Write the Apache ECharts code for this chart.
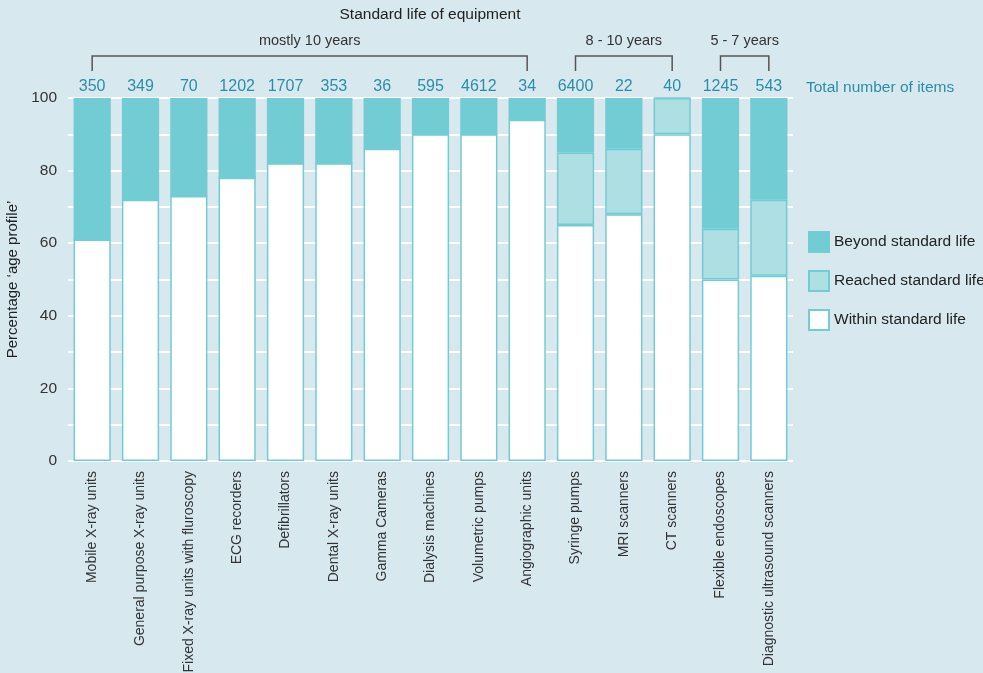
<!DOCTYPE html>
<html>
<head>
<meta charset="utf-8">
<script src="https://cdn.jsdelivr.net/npm/echarts@6/dist/echarts.min.js"></script>
<style>
  html, body { margin: 0; padding: 0; background: #d7e8ef; }
  #chart { width: 983px; height: 673px; }
</style>
</head>
<body>
<div id="chart"></div>
<script>
var categories = [
  "Mobile X-ray units", "General purpose X-ray units", "Fixed X-ray units with fluroscopy",
  "ECG recorders", "Defibrillators", "Dental X-ray units", "Gamma Cameras",
  "Dialysis machines", "Volumetric pumps", "Angiographic units", "Syringe pumps",
  "MRI scanners", "CT scanners", "Flexible endoscopes", "Diagnostic ultrasound scanners"
];
var totals = ["350", "349", "70", "1202", "1707", "353", "36", "595", "4612", "34", "6400", "22", "40", "1245", "543"];
var within = [61, 72, 73, 78, 82, 82, 86, 90, 90, 94, 65, 68, 90, 50, 51];
var reached = [0, 0, 0, 0, 0, 0, 0, 0, 0, 0, 20, 18, 10, 14, 21];
var beyond = [39, 28, 27, 22, 18, 18, 14, 10, 10, 6, 15, 14, 0, 36, 28];
var groups = [
  { label: "mostly 10 years", from: 0, to: 9 },
  { label: "8 - 10 years", from: 10, to: 12 },
  { label: "5 - 7 years", from: 13, to: 14 }
];

var FONT = "Liberation Sans, Arial, sans-serif";
var TEAL = "#72ccd4";
var myChart = echarts.init(document.getElementById("chart"), null, { renderer: "canvas" });

var option = {
  backgroundColor: "#d7e8ef",
  textStyle: { fontFamily: FONT },
  animation: false,
  grid: { left: 68, right: 190, top: 98, bottom: 212, containLabel: false, outerBoundsMode: "none" },
  legend: {
    orient: "vertical",
    left: 803,
    top: 226,
    icon: "rect",
    itemWidth: 20,
    itemHeight: 20,
    itemGap: 17,
    textStyle: { fontSize: 15.5, color: "#222", fontFamily: FONT },
    data: ["Beyond standard life", "Reached standard life", "Within standard life"]
  },
  xAxis: [
    {
      type: "category",
      data: categories,
      axisLine: { show: false },
      axisTick: { show: false },
      axisLabel: { rotate: 90, interval: 0, fontSize: 14, color: "#333", margin: 10, fontFamily: FONT }
    },
    {
      type: "category",
      position: "top",
      data: totals,
      axisLine: { show: false },
      axisTick: { show: false },
      axisLabel: { interval: 0, fontSize: 16, color: "#2b8ea8", margin: 3, fontFamily: FONT }
    }
  ],
  yAxis: {
    type: "value",
    min: 0,
    max: 100,
    interval: 10,
    name: "Percentage \u2018age profile\u2019",
    nameLocation: "middle",
    nameGap: 44,
    nameTextStyle: { fontSize: 15, color: "#222", fontFamily: FONT },
    axisLine: { show: false },
    axisTick: { show: false },
    axisLabel: {
      fontSize: 15.5, color: "#333", margin: 11, fontFamily: FONT,
      formatter: function (v) { return v % 20 === 0 ? v : ""; }
    },
    splitLine: { lineStyle: { color: "#ffffff", width: 2 } }
  },
  series: [
    {
      name: "Within standard life", type: "bar", stack: "age", barCategoryGap: "23%",
      itemStyle: { color: "#ffffff", borderColor: TEAL, borderWidth: 1.5 },
      data: within
    },
    {
      name: "Reached standard life", type: "bar", stack: "age",
      itemStyle: { color: "#addfe3", borderColor: TEAL, borderWidth: 1.5 },
      data: reached
    },
    {
      name: "Beyond standard life", type: "bar", stack: "age",
      itemStyle: { color: TEAL, borderColor: TEAL, borderWidth: 1.5 },
      data: beyond
    }
  ]
};
myChart.setOption(option);

// brackets and headings, placed from the category axis
var graphics = [
  {
    type: "text", x: 430, y: 15,
    style: { text: "Standard life of equipment", fill: "#222", font: "15.5px " + FONT, align: "center", verticalAlign: "middle" }
  },
  {
    type: "text", x: 806, y: 88,
    style: { text: "Total number of items", fill: "#2b8ea8", font: "15.5px " + FONT, verticalAlign: "middle" }
  }
];
groups.forEach(function (g) {
  var x1 = myChart.convertToPixel({ xAxisIndex: 0 }, categories[g.from]);
  var x2 = myChart.convertToPixel({ xAxisIndex: 0 }, categories[g.to]);
  graphics.push({
    type: "polyline",
    shape: { points: [[x1, 71], [x1, 56], [x2, 56], [x2, 71]] },
    style: { stroke: "#555", lineWidth: 1.5, fill: null }
  });
  graphics.push({
    type: "text", x: (x1 + x2) / 2, y: 41,
    style: { text: g.label, fill: "#333", font: "14.5px " + FONT, align: "center", verticalAlign: "middle" }
  });
});
myChart.setOption({ graphic: graphics });
</script>
</body>
</html>
